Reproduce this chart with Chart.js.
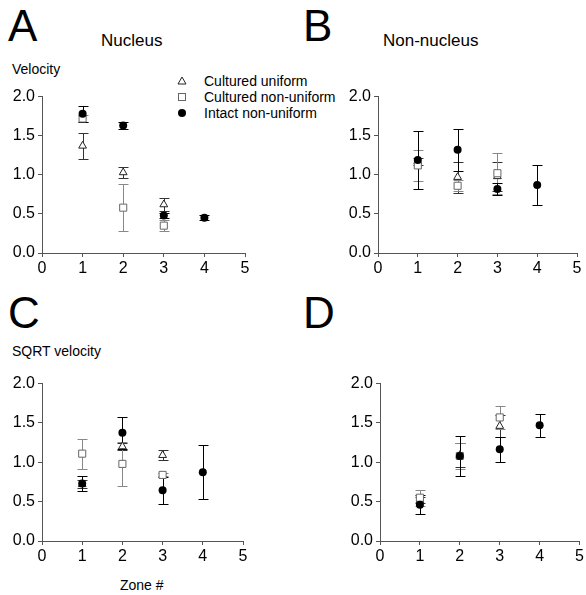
<!DOCTYPE html>
<html>
<head>
<meta charset="utf-8">
<script src="https://cdn.jsdelivr.net/npm/chart.js@4.4.0/dist/chart.umd.min.js"></script>
<style>
  body { margin: 0; background: #fff; font-family: "Liberation Sans", Arial, sans-serif; color: #000; }
  #page { position: relative; width: 586px; height: 595px; overflow: hidden; }
  canvas { position: absolute; }
  .txt { position: absolute; white-space: nowrap; line-height: 1; }
  .letter { font-size: 44px; }
  .title { font-size: 17px; }
  .ylab { font-size: 14px; }
  .leg { position: absolute; left: 176px; font-size: 14px; line-height: 1; }
  .leg svg { position: absolute; left: 0; top: 1px; }
  .leg span { position: absolute; left: 28px; top: 0; white-space: nowrap; }
</style>
</head>
<body>
<div id="page">
  <div class="txt letter" style="left:8px; top:4px;">A</div>
  <div class="txt letter" style="left:303px; top:4px;">B</div>
  <div class="txt letter" style="left:8px; top:291px;">C</div>
  <div class="txt letter" style="left:303px; top:291px;">D</div>
  <div class="txt title" style="left:101px; top:32px;">Nucleus</div>
  <div class="txt title" style="left:383px; top:32px;">Non-nucleus</div>
  <div class="txt ylab" style="left:12px; top:62px;">Velocity</div>
  <div class="txt ylab" style="left:12px; top:344px;">SQRT velocity</div>
  <div class="txt ylab" style="left:120px; top:578px;">Zone #</div>

  <div class="leg" style="top:74px;"><svg width="12" height="12"><polygon points="6,2 10,9 2,9" fill="#fff" stroke="#222" stroke-width="1"/></svg><span>Cultured uniform</span></div>
  <div class="leg" style="top:90px;"><svg width="12" height="12"><rect x="2.5" y="2.5" width="7" height="7" fill="#fff" stroke="#666" stroke-width="1"/></svg><span>Cultured non-uniform</span></div>
  <div class="leg" style="top:106px;"><svg width="12" height="12"><circle cx="6" cy="6" r="4" fill="#000"/></svg><span>Intact non-uniform</span></div>

  <canvas id="chartA" width="262" height="196" style="left:0px; top:84px;"></canvas>
  <canvas id="chartB" width="250" height="196" style="left:336px; top:84px;"></canvas>
  <canvas id="chartC" width="262" height="197" style="left:0px; top:371px;"></canvas>
  <canvas id="chartD" width="248" height="197" style="left:338px; top:371px;"></canvas>
</div>
<script>
// zones (x axis) and y ticks
const zones = [1, 2, 3, 4];
const xTicks = [0, 1, 2, 3, 4, 5];
const yTicks = [0.0, 0.5, 1.0, 1.5, 2.0];

// A : nucleus, velocity
const nucUniform = [1.37, 1.03, 0.62, null];
const nucUniformErr = [0.17, 0.07, 0.08, null];
const nucNonUniform = [1.72, 0.58, 0.35, null];
const nucNonUniformErr = [0.05, 0.30, 0.07, null];
const nucIntact = [1.78, 1.63, 0.48, 0.45];
const nucIntactErr = [0.10, 0.04, 0.03, 0.03];

// B : non-nucleus, velocity
const nonUniform = [1.17, 0.97, 0.98, null];
const nonUniformErr = [0.05, 0.20, 0.19, null];
const nonNonUniform = [1.12, 0.86, 1.02, null];
const nonNonUniformErr = [0.20, 0.07, 0.26, null];
const nonIntact = [1.19, 1.32, 0.82, 0.87];
const nonIntactErr = [0.37, 0.27, 0.08, 0.26];

// C : nucleus, sqrt velocity
const sqNucUniform = [0.72, 1.20, 1.09, null];
const sqNucUniformErr = [0.05, 0.05, 0.06, null];
const sqNucNonUniform = [1.11, 0.98, 0.84, null];
const sqNucNonUniformErr = [0.19, 0.28, 0.02, null];
const sqNucIntact = [0.73, 1.375, 0.645, 0.875];
const sqNucIntactErr = [0.10, 0.20, 0.17, 0.34];

// D : non-nucleus, sqrt velocity
const sqNonUniform = [0.52, 1.09, 1.46, null];
const sqNonUniformErr = [0.04, 0.15, 0.14, null];
const sqNonNonUniform = [0.55, 1.08, 1.57, null];
const sqNonNonUniformErr = [0.10, 0.17, 0.15, null];
const sqNonIntact = [0.46, 1.08, 1.165, 1.47];
const sqNonIntactErr = [0.12, 0.26, 0.16, 0.15];

function toPoints(vals, errs) {
    const pts = [];
    zones.forEach((z, i) => {
        if (vals[i] !== null) pts.push({ x: z, y: vals[i], err: errs[i] });
    });
    return pts;
}

// error bars drawn behind the markers, using the chart scales
const errorBarPlugin = {
    id: 'errorBars',
    beforeDatasetsDraw(chart) {
        const ctx = chart.ctx;
        const xs = chart.scales.x, ys = chart.scales.y;
        chart.data.datasets.forEach(ds => {
            ctx.save();
            ctx.strokeStyle = ds.errColor;
            ctx.lineWidth = 1;
            ds.data.forEach(p => {
                if (!p.err) return;
                const px = Math.round(xs.getPixelForValue(p.x)) + 0.5;
                const top = Math.round(ys.getPixelForValue(p.y + p.err)) + 0.5;
                const bot = Math.round(ys.getPixelForValue(p.y - p.err)) + 0.5;
                ctx.beginPath();
                ctx.moveTo(px, top); ctx.lineTo(px, bot);
                ctx.moveTo(px - 5, top); ctx.lineTo(px + 5, top);
                ctx.moveTo(px - 5, bot); ctx.lineTo(px + 5, bot);
                ctx.stroke();
            });
            ctx.restore();
        });
    }
};

function makePanel(id, uni, uniErr, non, nonErr, intact, intactErr, padRight) {
    const axisColor = '#555';
    new Chart(document.getElementById(id), {
        type: 'scatter',
        data: {
            datasets: [
                {
                    label: 'Cultured uniform',
                    data: toPoints(uni, uniErr),
                    pointStyle: 'triangle', pointRadius: 4.5,
                    backgroundColor: '#fff', borderColor: '#222', borderWidth: 1,
                    errColor: '#333', order: 3
                },
                {
                    label: 'Cultured non-uniform',
                    data: toPoints(non, nonErr),
                    pointStyle: 'rect', pointRadius: 5,
                    backgroundColor: '#fff', borderColor: '#666', borderWidth: 1,
                    errColor: '#888', order: 2
                },
                {
                    label: 'Intact non-uniform',
                    data: toPoints(intact, intactErr),
                    pointStyle: 'circle', pointRadius: 4,
                    backgroundColor: '#000', borderColor: '#000', borderWidth: 0,
                    errColor: '#000', order: 1
                }
            ]
        },
        options: {
            responsive: false,
            animation: false,
            devicePixelRatio: 1,
            layout: { padding: { top: 10, right: padRight, left: 0, bottom: 0 } },
            plugins: { legend: { display: false }, tooltip: { enabled: false } },
            scales: {
                x: {
                    type: 'linear', min: 0, max: 5,
                    afterFit: s => { s.height = 27; },
                    afterBuildTicks: s => { s.ticks = xTicks.map(v => ({ value: v })); },
                    ticks: { color: '#000', padding: 2, font: { family: 'Liberation Sans', size: 16 } },
                    grid: { display: true, drawOnChartArea: false, drawTicks: true, tickLength: 4, color: axisColor },
                    border: { display: true, color: axisColor, width: 1 }
                },
                y: {
                    type: 'linear', min: 0, max: 2,
                    afterFit: s => { s.width = 42; },
                    afterBuildTicks: s => { s.ticks = yTicks.map(v => ({ value: v })); },
                    ticks: { color: '#000', padding: 3, font: { family: 'Liberation Sans', size: 16 },
                             callback: v => v.toFixed(1) },
                    grid: { display: true, drawOnChartArea: false, drawTicks: true, tickLength: 4, color: axisColor },
                    border: { display: true, color: axisColor, width: 1 }
                }
            }
        },
        plugins: [errorBarPlugin]
    });
}

makePanel('chartA', nucUniform, nucUniformErr, nucNonUniform, nucNonUniformErr, nucIntact, nucIntactErr, 17);
makePanel('chartB', nonUniform, nonUniformErr, nonNonUniform, nonNonUniformErr, nonIntact, nonIntactErr, 9);
makePanel('chartC', sqNucUniform, sqNucUniformErr, sqNucNonUniform, sqNucNonUniformErr, sqNucIntact, sqNucIntactErr, 19);
makePanel('chartD', sqNonUniform, sqNonUniformErr, sqNonNonUniform, sqNonNonUniformErr, sqNonIntact, sqNonIntactErr, 4);
</script>
</body>
</html>
